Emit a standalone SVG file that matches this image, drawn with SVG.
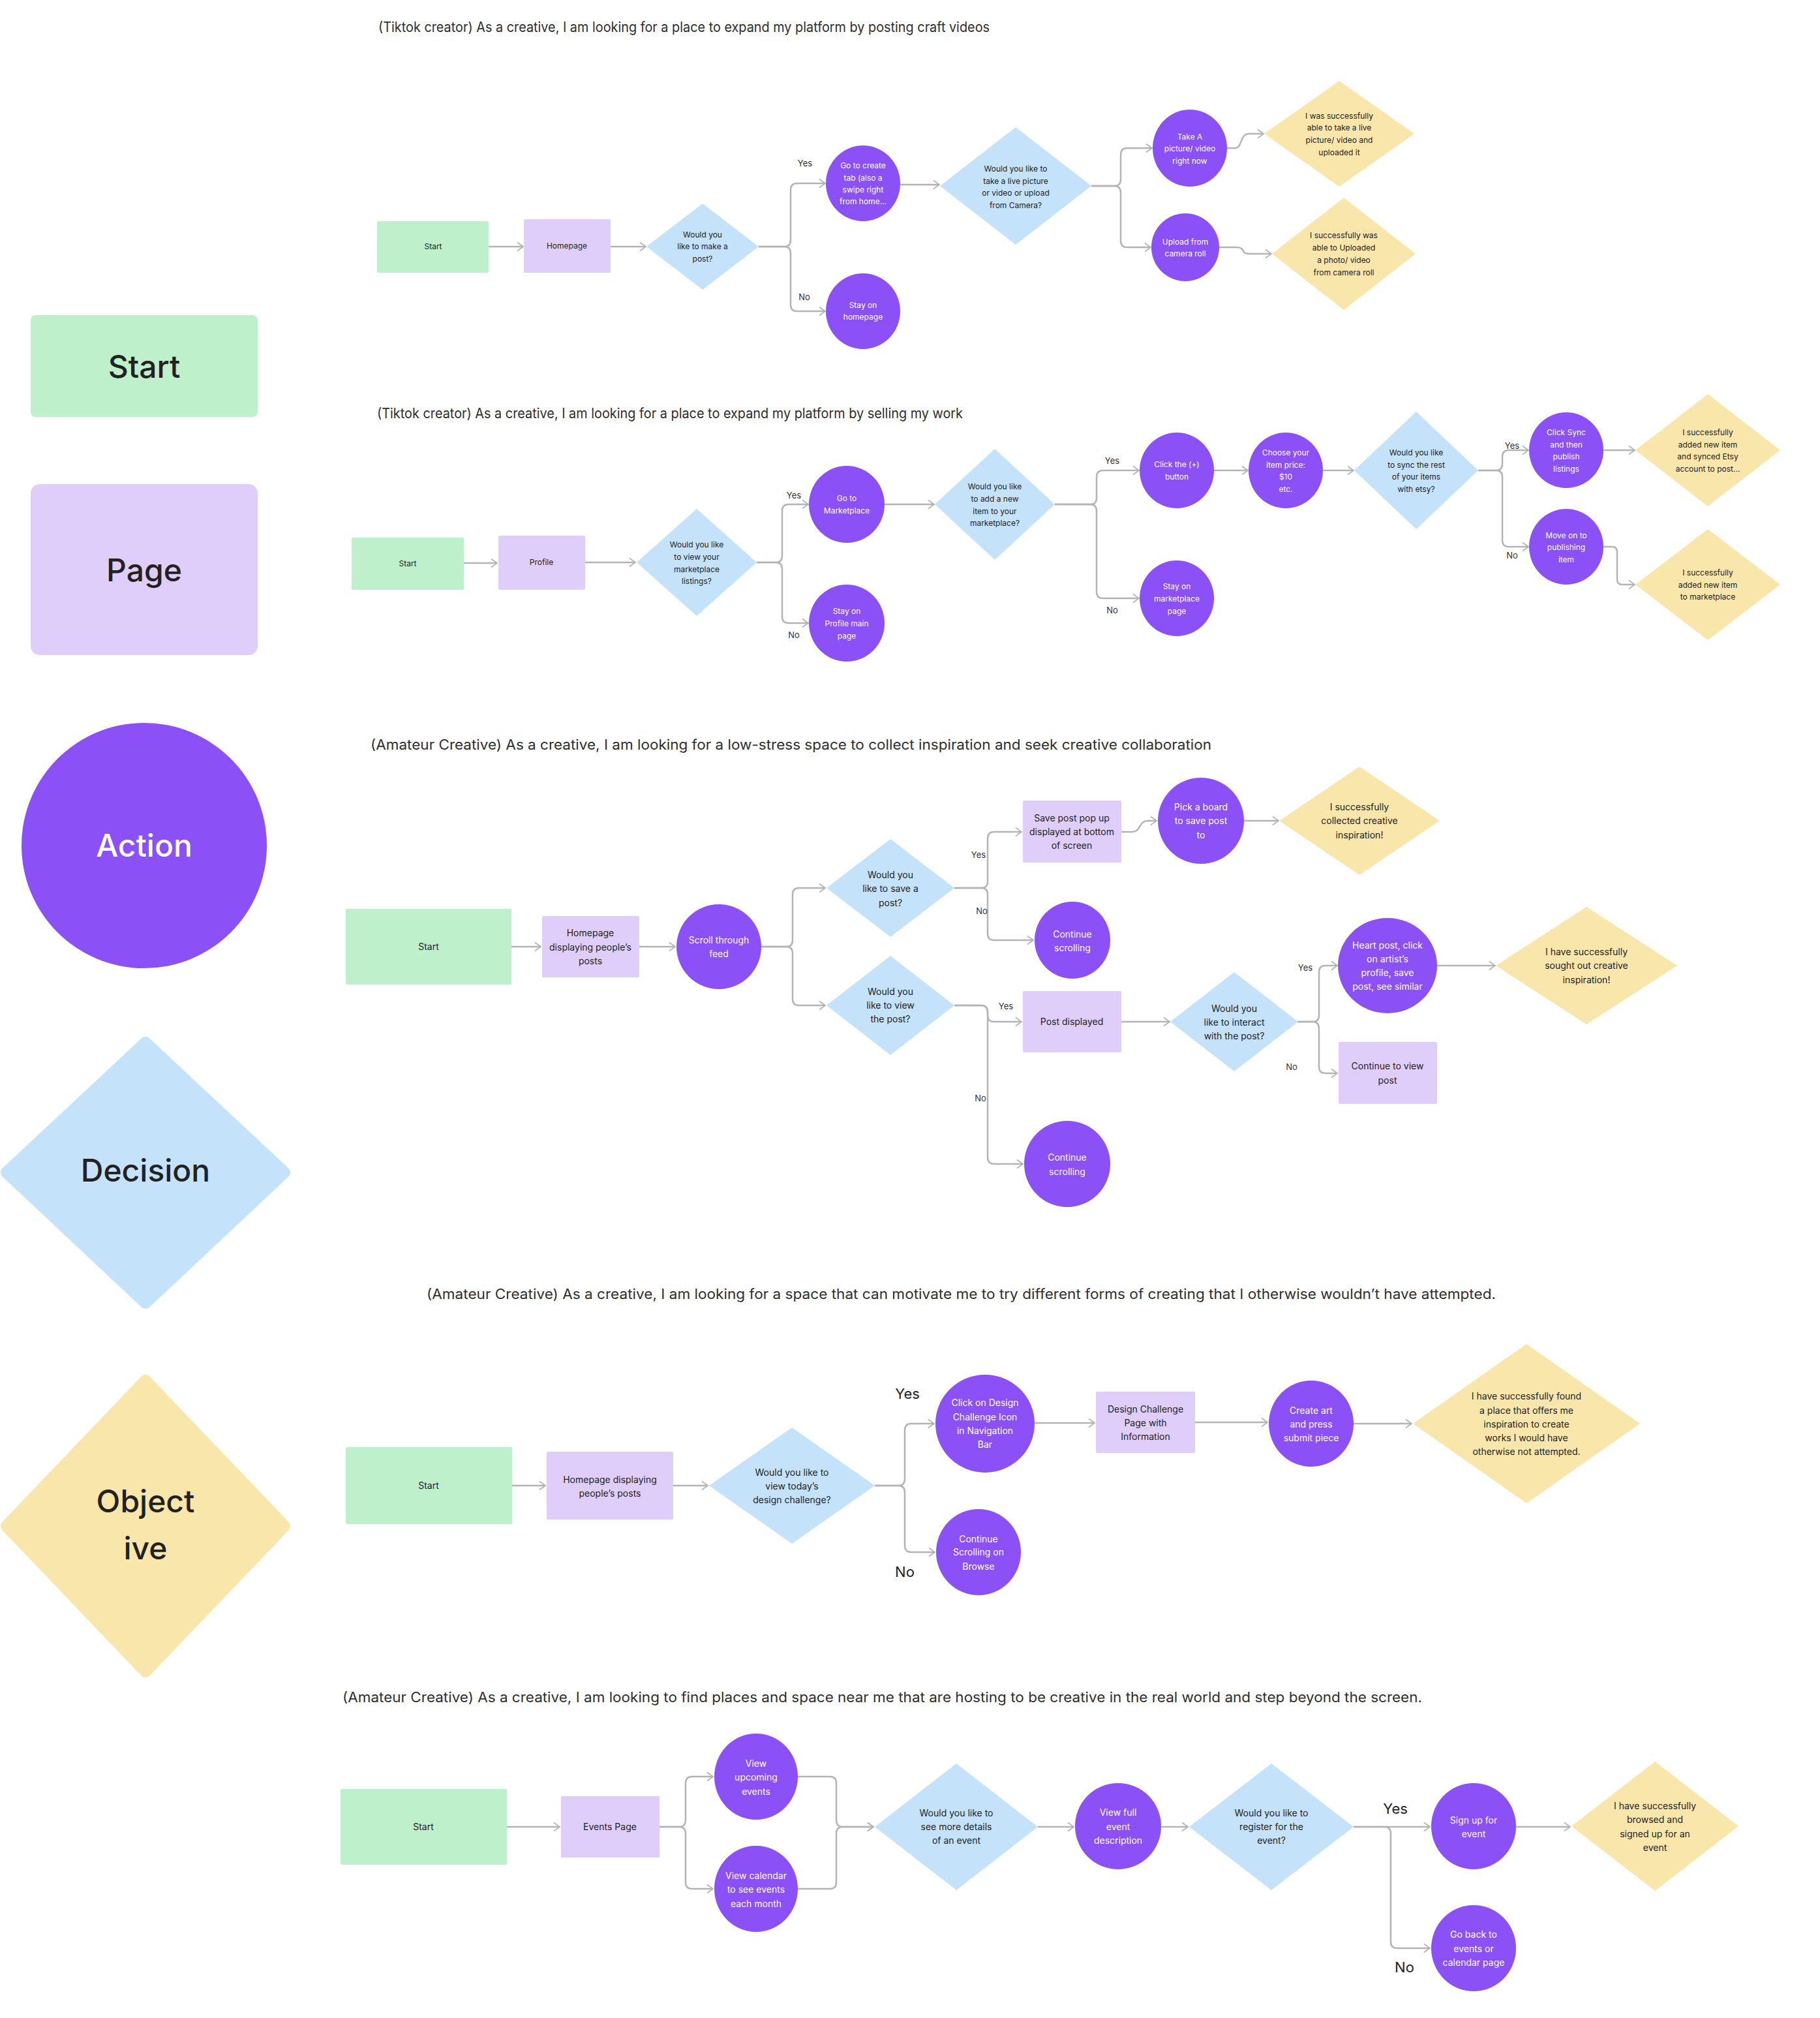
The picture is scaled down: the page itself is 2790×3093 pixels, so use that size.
<svg xmlns="http://www.w3.org/2000/svg" width="2790" height="3093" viewBox="0 0 2790 3093">
<defs>
<style>
.start{fill:#BDF0CB}
.page{fill:#E0CEFA}
.action{fill:#8B50F6}
.decision{fill:#C4E2FA}
.objective{fill:#F9E6AA}
text{font-family:Inter,"Liberation Sans",sans-serif;fill:#222;text-anchor:middle}
.w{fill:#fff}
.s12{font-size:12px}
.s14{font-size:14px}
.lg{font-size:48px;font-weight:500}
.title{font-size:21px;fill:#2e2e2e;text-anchor:start}
.lbl{font-size:13px;fill:#333}
.lbl2{font-size:22px;fill:#222}
.conn{fill:none;stroke:#b4b4b4;stroke-width:2.5;marker-end:url(#arr)}
</style>
<marker id="arr" markerWidth="14" markerHeight="16" refX="11" refY="8" orient="auto" markerUnits="userSpaceOnUse">
<path d="M2,1.5 L11,8 L2,14.5" fill="none" stroke="#b4b4b4" stroke-width="1.8"/>
</marker>
</defs>
<rect width="2790" height="3093" fill="#fff"/>

<!-- Legend -->
<g id="legend-start"><rect class="start" x="47" y="483" width="348" height="156" rx="8"/><text class="lg" x="221" y="579">Start</text></g>
<g id="legend-page"><rect class="page" x="47" y="742" width="348" height="262" rx="14"/><text class="lg" x="221" y="891">Page</text></g>
<g id="legend-action"><circle class="action" cx="221" cy="1296" r="188"/><text class="lg w" x="221" y="1313">Action</text></g>
<g id="legend-decision"><polygon class="decision" points="223,1598 436,1797 223,1997 10,1797" stroke="#C4E2FA" stroke-width="18" stroke-linejoin="round"/><text class="lg" x="223" y="1811">Decision</text></g>
<g id="legend-objective"><polygon class="objective" points="223,2116 436,2339 223,2562 10,2339" stroke="#F9E6AA" stroke-width="18" stroke-linejoin="round"/><text class="lg" x="223" y="2318">Object</text><text class="lg" x="223" y="2390">ive</text></g>

<!-- Titles -->
<text class="title" x="580" y="49" font-size="20" textLength="937" lengthAdjust="spacingAndGlyphs">(Tiktok creator) As a creative, I am looking for a place to expand my platform by posting craft videos</text>
<text class="title" x="578" y="641" font-size="20" textLength="898" lengthAdjust="spacingAndGlyphs">(Tiktok creator) As a creative, I am looking for a place to expand my platform by selling my work</text>
<text class="title" x="568" y="1149" textLength="1289" lengthAdjust="spacingAndGlyphs">(Amateur Creative) As a creative, I am looking for a low-stress space to collect inspiration and seek creative collaboration</text>
<text class="title" x="654" y="1991" textLength="1639" lengthAdjust="spacingAndGlyphs">(Amateur Creative) As a creative, I am looking for a space that can motivate me to try different forms of creating that I otherwise wouldn’t have attempted.</text>
<text class="title" x="525" y="2609" textLength="1655" lengthAdjust="spacingAndGlyphs">(Amateur Creative) As a creative, I am looking to find places and space near me that are hosting to be creative in the real world and step beyond the screen.</text>

<!-- Connectors -->
<g id="connectors">
<!-- flow 1 -->
<path class="conn" d="M749,378 H802"/>
<path class="conn" d="M936,378 H990"/>
<path class="conn" d="M1163,378 H1202 Q1212,378 1212,368 V291 Q1212,281 1222,281 H1265"/>
<path class="conn" d="M1163,378 H1202 Q1212,378 1212,388 V467 Q1212,477 1222,477 H1265"/>
<path class="conn" d="M1380,283 H1440"/>
<path class="conn" d="M1673,285 H1708 Q1718,285 1718,275 V237 Q1718,227 1728,227 H1766"/>
<path class="conn" d="M1673,285 H1708 Q1718,285 1718,295 V369 Q1718,379 1728,379 H1764"/>
<path class="conn" d="M1881,227 H1893 C1905,227 1900,205 1915,205 H1937"/>
<path class="conn" d="M1869,379 H1896 Q1904,379 1906,385 Q1908,389 1916,389 H1949"/>
<!-- flow 2 -->
<path class="conn" d="M711,863 H762"/>
<path class="conn" d="M897,862 H974"/>
<path class="conn" d="M1160,862 H1189 Q1199,862 1199,852 V783 Q1199,773 1209,773 H1239"/>
<path class="conn" d="M1160,862 H1189 Q1199,862 1199,872 V945 Q1199,955 1209,955 H1239"/>
<path class="conn" d="M1356,773 H1432"/>
<path class="conn" d="M1617,773 H1671 Q1681,773 1681,763 V731 Q1681,721 1691,721 H1746"/>
<path class="conn" d="M1617,773 H1671 Q1681,773 1681,783 V907 Q1681,917 1691,917 H1746"/>
<path class="conn" d="M1861,721 H1913"/>
<path class="conn" d="M2028,721 H2075"/>
<path class="conn" d="M2266,721 H2293 Q2303,721 2303,711 V700 Q2303,690 2313,690 H2343"/>
<path class="conn" d="M2266,721 H2293 Q2303,721 2303,731 V828 Q2303,838 2313,838 H2343"/>
<path class="conn" d="M2458,690 H2506"/>
<path class="conn" d="M2458,838 H2471 Q2479,838 2479,846 V888 Q2479,896 2487,896 H2506"/>
<!-- flow 3 -->
<path class="conn" d="M784,1451 H829"/>
<path class="conn" d="M980,1451 H1035"/>
<path class="conn" d="M1167,1451 H1205 Q1215,1451 1215,1441 V1371 Q1215,1361 1225,1361 H1265"/>
<path class="conn" d="M1167,1451 H1205 Q1215,1451 1215,1461 V1531 Q1215,1541 1225,1541 H1265"/>
<path class="conn" d="M1463,1361 H1504 Q1514,1361 1514,1351 V1285 Q1514,1275 1524,1275 H1566"/>
<path class="conn" d="M1463,1361 H1504 Q1514,1361 1514,1371 V1431 Q1514,1441 1524,1441 H1584"/>
<path class="conn" d="M1719,1275 H1735 C1750,1275 1745,1258 1760,1258 H1773"/>
<path class="conn" d="M1907,1258 H1960"/>
<path class="conn" d="M1463,1541 H1504 Q1514,1541 1514,1551 V1556 Q1514,1566 1524,1566 H1566"/>
<path class="conn" d="M1463,1541 H1504 Q1514,1541 1514,1551 V1774 Q1514,1784 1524,1784 H1568"/>
<path class="conn" d="M1719,1566 H1793"/>
<path class="conn" d="M1989,1566 H2012 Q2022,1566 2022,1556 V1490 Q2022,1480 2032,1480 H2050"/>
<path class="conn" d="M1989,1566 H2012 Q2022,1566 2022,1576 V1635 Q2022,1645 2032,1645 H2050"/>
<path class="conn" d="M2203,1480 H2292"/>
<!-- flow 4 -->
<path class="conn" d="M785,2277 H836"/>
<path class="conn" d="M1032,2277 H1085"/>
<path class="conn" d="M1341,2277 H1377 Q1387,2277 1387,2267 V2192 Q1387,2182 1397,2182 H1432"/>
<path class="conn" d="M1341,2277 H1377 Q1387,2277 1387,2287 V2369 Q1387,2379 1397,2379 H1433"/>
<path class="conn" d="M1586,2181 H1678"/>
<path class="conn" d="M1832,2180 H1943"/>
<path class="conn" d="M2075,2182 H2164"/>
<!-- flow 5 -->
<path class="conn" d="M777,2800 H858"/>
<path class="conn" d="M1011,2800 H1041 Q1051,2800 1051,2790 V2733 Q1051,2723 1061,2723 H1093"/>
<path class="conn" d="M1011,2800 H1041 Q1051,2800 1051,2810 V2885 Q1051,2895 1061,2895 H1093"/>
<path class="conn" d="M1223,2723 H1272 Q1282,2723 1282,2733 V2790 Q1282,2800 1292,2800 H1339"/>
<path class="conn" d="M1223,2895 H1272 Q1282,2895 1282,2885 V2810 Q1282,2800 1292,2800 H1339"/>
<path class="conn" d="M1591,2800 H1646"/>
<path class="conn" d="M1780,2800 H1821"/>
<path class="conn" d="M2075,2800 H2192"/>
<path class="conn" d="M2075,2800 H2122 Q2132,2800 2132,2810 V2976 Q2132,2986 2142,2986 H2192"/>
<path class="conn" d="M2324,2800 H2407"/>
</g>

<!-- Connector labels -->
<g id="labels">
<text class="lbl" x="1234" y="255">Yes</text>
<text class="lbl" x="1233" y="460">No</text>
<text class="lbl" x="1217" y="764">Yes</text>
<text class="lbl" x="1217" y="978">No</text>
<text class="lbl" x="1705" y="711">Yes</text>
<text class="lbl" x="1705" y="940">No</text>
<text class="lbl" x="2318" y="688">Yes</text>
<text class="lbl" x="2318" y="856">No</text>
<text class="lbl" x="1500" y="1315">Yes</text>
<text class="lbl" x="1505" y="1401">No</text>
<text class="lbl" x="1542" y="1547">Yes</text>
<text class="lbl" x="1503" y="1688">No</text>
<text class="lbl" x="2001" y="1488">Yes</text>
<text class="lbl" x="1980" y="1640">No</text>
<text class="lbl2" x="1391" y="2144">Yes</text>
<text class="lbl2" x="1387" y="2417">No</text>
<text class="lbl2" x="2139" y="2780">Yes</text>
<text class="lbl2" x="2153" y="3023">No</text>
</g>

<!-- Flow 1 -->
<g id="f1-start"><rect class="start" x="578" y="339" width="171" height="79" rx="2"/><text class="s12" x="664" y="382">Start</text></g>
<g id="f1-homepage"><rect class="page" x="803" y="336" width="133" height="82" rx="2"/><text class="s12" x="869" y="381">Homepage</text></g>
<g id="f1-dec-post"><polygon class="decision" points="1077,312 1163,378 1077,444 991,378"/><text class="s12"><tspan x="1077" y="364">Would you</tspan><tspan x="1077" y="382">like to make a</tspan><tspan x="1077" y="401">post?</tspan></text></g>
<g id="f1-create-tab"><ellipse class="action" cx="1323" cy="281" rx="57" ry="58"/><text class="s12 w"><tspan x="1323" y="258">Go to create</tspan><tspan x="1323" y="277">tab (also a</tspan><tspan x="1323" y="295">swipe right</tspan><tspan x="1323" y="313">from home...</tspan></text></g>
<g id="f1-stay"><ellipse class="action" cx="1323" cy="477" rx="57" ry="58"/><text class="s12 w"><tspan x="1323" y="472">Stay on</tspan><tspan x="1323" y="490">homepage</tspan></text></g>
<g id="f1-dec-camera"><polygon class="decision" points="1557,195 1673,285 1557,375 1441,285"/><text class="s12"><tspan x="1557" y="263">Would you like to</tspan><tspan x="1557" y="282">take a live picture</tspan><tspan x="1557" y="300">or video or upload</tspan><tspan x="1557" y="319">from Camera?</tspan></text></g>
<g id="f1-take"><ellipse class="action" cx="1824" cy="227" rx="57" ry="59"/><text class="s12 w"><tspan x="1824" y="214">Take A</tspan><tspan x="1824" y="232">picture/ video</tspan><tspan x="1824" y="251">right now</tspan></text></g>
<g id="f1-upload"><ellipse class="action" cx="1817" cy="379" rx="52" ry="52"/><text class="s12 w"><tspan x="1817" y="375">Upload from</tspan><tspan x="1817" y="393">camera roll</tspan></text></g>
<g id="f1-obj-live"><polygon class="objective" points="2053,124 2168,205 2053,286 1938,205"/><text class="s12"><tspan x="2053" y="182">I was successfully</tspan><tspan x="2053" y="200">able to take a live</tspan><tspan x="2053" y="219">picture/ video and</tspan><tspan x="2053" y="238">uploaded it</tspan></text></g>
<g id="f1-obj-roll"><polygon class="objective" points="2060,303 2170,389 2060,475 1950,389"/><text class="s12"><tspan x="2060" y="365">I successfully was</tspan><tspan x="2060" y="384">able to Uploaded</tspan><tspan x="2060" y="403">a photo/ video</tspan><tspan x="2060" y="422">from camera roll</tspan></text></g>

<!-- Flow 2 -->
<g id="f2-start"><rect class="start" x="539" y="824" width="172" height="80" rx="2"/><text class="s12" x="625" y="868">Start</text></g>
<g id="f2-profile"><rect class="page" x="764" y="821" width="133" height="83" rx="2"/><text class="s12" x="830" y="866">Profile</text></g>
<g id="f2-dec-listings"><polygon class="decision" points="1068,780 1160,862 1068,944 976,862"/><text class="s12"><tspan x="1068" y="839">Would you like</tspan><tspan x="1068" y="858">to view your</tspan><tspan x="1068" y="877">marketplace</tspan><tspan x="1068" y="895">listings?</tspan></text></g>
<g id="f2-marketplace"><ellipse class="action" cx="1298" cy="773" rx="58" ry="59"/><text class="s12 w"><tspan x="1298" y="768">Go to</tspan><tspan x="1298" y="787">Marketplace</tspan></text></g>
<g id="f2-stay-profile"><ellipse class="action" cx="1298" cy="955" rx="58" ry="59"/><text class="s12 w"><tspan x="1298" y="941">Stay on</tspan><tspan x="1298" y="960">Profile main</tspan><tspan x="1298" y="979">page</tspan></text></g>
<g id="f2-dec-add"><polygon class="decision" points="1525,688 1617,773 1525,858 1433,773"/><text class="s12"><tspan x="1525" y="750">Would you like</tspan><tspan x="1525" y="769">to add a new</tspan><tspan x="1525" y="788">item to your</tspan><tspan x="1525" y="806">marketplace?</tspan></text></g>
<g id="f2-plus"><ellipse class="action" cx="1804" cy="721" rx="57" ry="58"/><text class="s12 w"><tspan x="1804" y="716">Click the (+)</tspan><tspan x="1804" y="735">button</tspan></text></g>
<g id="f2-stay-market"><ellipse class="action" cx="1804" cy="917" rx="57" ry="58"/><text class="s12 w"><tspan x="1804" y="903">Stay on</tspan><tspan x="1804" y="922">marketplace</tspan><tspan x="1804" y="941">page</tspan></text></g>
<g id="f2-price"><ellipse class="action" cx="1971" cy="721" rx="57" ry="58"/><text class="s12 w"><tspan x="1971" y="698">Choose your</tspan><tspan x="1971" y="717">item price:</tspan><tspan x="1971" y="735">$10</tspan><tspan x="1971" y="754">etc.</tspan></text></g>
<g id="f2-dec-sync"><polygon class="decision" points="2171,631 2266,721 2171,811 2076,721"/><text class="s12"><tspan x="2171" y="698">Would you like</tspan><tspan x="2171" y="717">to sync the rest</tspan><tspan x="2171" y="735">of your items</tspan><tspan x="2171" y="754">with etsy?</tspan></text></g>
<g id="f2-sync"><ellipse class="action" cx="2401" cy="690" rx="57" ry="58"/><text class="s12 w"><tspan x="2401" y="667">Click Sync</tspan><tspan x="2401" y="686">and then</tspan><tspan x="2401" y="704">publish</tspan><tspan x="2401" y="723">listings</tspan></text></g>
<g id="f2-move-on"><ellipse class="action" cx="2401" cy="838" rx="57" ry="58"/><text class="s12 w"><tspan x="2401" y="825">Move on to</tspan><tspan x="2401" y="843">publishing</tspan><tspan x="2401" y="862">item</tspan></text></g>
<g id="f2-obj-etsy"><polygon class="objective" points="2618,604 2729,690 2618,776 2507,690"/><text class="s12"><tspan x="2618" y="667">I successfully</tspan><tspan x="2618" y="686">added new item</tspan><tspan x="2618" y="704">and synced Etsy</tspan><tspan x="2618" y="723">account to post...</tspan></text></g>
<g id="f2-obj-market"><polygon class="objective" points="2618,811 2729,896 2618,981 2507,896"/><text class="s12"><tspan x="2618" y="882">I successfully</tspan><tspan x="2618" y="901">added new item</tspan><tspan x="2618" y="919">to marketplace</tspan></text></g>

<!-- Flow 3 -->
<g id="f3-start"><rect class="start" x="530" y="1393" width="254" height="116" rx="2"/><text class="s14" x="657" y="1456">Start</text></g>
<g id="f3-homepage"><rect class="page" x="831" y="1404" width="149" height="94" rx="2"/><text class="s14"><tspan x="905" y="1435">Homepage</tspan><tspan x="905" y="1457">displaying people’s</tspan><tspan x="905" y="1478">posts</tspan></text></g>
<g id="f3-scroll"><ellipse class="action" cx="1102" cy="1451" rx="65" ry="65"/><text class="s14 w"><tspan x="1102" y="1446">Scroll through</tspan><tspan x="1102" y="1467">feed</tspan></text></g>
<g id="f3-dec-save"><polygon class="decision" points="1365,1286 1463,1361 1365,1436 1267,1361"/><text class="s14"><tspan x="1365" y="1346">Would you</tspan><tspan x="1365" y="1367">like to save a</tspan><tspan x="1365" y="1389">post?</tspan></text></g>
<g id="f3-dec-view"><polygon class="decision" points="1365,1465 1463,1541 1365,1617 1267,1541"/><text class="s14"><tspan x="1365" y="1525">Would you</tspan><tspan x="1365" y="1546">like to view</tspan><tspan x="1365" y="1567">the post?</tspan></text></g>
<g id="f3-save-popup"><rect class="page" x="1568" y="1227" width="151" height="95" rx="2"/><text class="s14"><tspan x="1643" y="1259">Save post pop up</tspan><tspan x="1643" y="1280">displayed at bottom</tspan><tspan x="1643" y="1301">of screen</tspan></text></g>
<g id="f3-continue-1"><ellipse class="action" cx="1644" cy="1441" rx="58" ry="59"/><text class="s14 w"><tspan x="1644" y="1437">Continue</tspan><tspan x="1644" y="1458">scrolling</tspan></text></g>
<g id="f3-pick-board"><ellipse class="action" cx="1841" cy="1258" rx="66" ry="66"/><text class="s14 w"><tspan x="1841" y="1242">Pick a board</tspan><tspan x="1841" y="1263">to save post</tspan><tspan x="1841" y="1285">to</tspan></text></g>
<g id="f3-obj-collected"><polygon class="objective" points="2084,1175 2207,1258 2084,1341 1961,1258"/><text class="s14"><tspan x="2084" y="1242">I successfully</tspan><tspan x="2084" y="1263">collected creative</tspan><tspan x="2084" y="1285">inspiration!</tspan></text></g>
<g id="f3-post-displayed"><rect class="page" x="1568" y="1519" width="151" height="94" rx="2"/><text class="s14" x="1643" y="1571">Post displayed</text></g>
<g id="f3-continue-2"><ellipse class="action" cx="1636" cy="1784" rx="66" ry="66"/><text class="s14 w"><tspan x="1636" y="1779">Continue</tspan><tspan x="1636" y="1801">scrolling</tspan></text></g>
<g id="f3-dec-interact"><polygon class="decision" points="1892,1490 1990,1566 1892,1642 1794,1566"/><text class="s14"><tspan x="1892" y="1551">Would you</tspan><tspan x="1892" y="1572">like to interact</tspan><tspan x="1892" y="1593">with the post?</tspan></text></g>
<g id="f3-heart"><ellipse class="action" cx="2127" cy="1480" rx="76" ry="73"/><text class="s14 w"><tspan x="2127" y="1454">Heart post, click</tspan><tspan x="2127" y="1475">on artist’s</tspan><tspan x="2127" y="1496">profile, save</tspan><tspan x="2127" y="1517">post, see similar</tspan></text></g>
<g id="f3-continue-view"><rect class="page" x="2052" y="1597" width="151" height="95" rx="2"/><text class="s14"><tspan x="2127" y="1639">Continue to view</tspan><tspan x="2127" y="1661">post</tspan></text></g>
<g id="f3-obj-sought"><polygon class="objective" points="2432,1390 2571,1480 2432,1570 2293,1480"/><text class="s14"><tspan x="2432" y="1464">I have successfully</tspan><tspan x="2432" y="1485">sought out creative</tspan><tspan x="2432" y="1507">inspiration!</tspan></text></g>

<!-- Flow 4 -->
<g id="f4-start"><rect class="start" x="530" y="2218" width="255" height="118" rx="2"/><text class="s14" x="657" y="2282">Start</text></g>
<g id="f4-homepage"><rect class="page" x="838" y="2225" width="194" height="104" rx="2"/><text class="s14"><tspan x="935" y="2273">Homepage displaying</tspan><tspan x="935" y="2294">people’s posts</tspan></text></g>
<g id="f4-dec-challenge"><polygon class="decision" points="1214,2188 1341,2277 1214,2366 1087,2277"/><text class="s14"><tspan x="1214" y="2262">Would you like to</tspan><tspan x="1214" y="2283">view today’s</tspan><tspan x="1214" y="2304">design challenge?</tspan></text></g>
<g id="f4-click-icon"><ellipse class="action" cx="1510" cy="2182" rx="76" ry="75"/><text class="s14 w"><tspan x="1510" y="2155">Click on Design</tspan><tspan x="1510" y="2177">Challenge Icon</tspan><tspan x="1510" y="2198">in Navigation</tspan><tspan x="1510" y="2219">Bar</tspan></text></g>
<g id="f4-continue"><ellipse class="action" cx="1500" cy="2379" rx="65" ry="66"/><text class="s14 w"><tspan x="1500" y="2364">Continue</tspan><tspan x="1500" y="2384">Scrolling on</tspan><tspan x="1500" y="2406">Browse</tspan></text></g>
<g id="f4-challenge-page"><rect class="page" x="1680" y="2133" width="152" height="94" rx="2"/><text class="s14"><tspan x="1756" y="2165">Design Challenge</tspan><tspan x="1756" y="2186">Page with</tspan><tspan x="1756" y="2207">Information</tspan></text></g>
<g id="f4-create"><ellipse class="action" cx="2010" cy="2182" rx="65" ry="66"/><text class="s14 w"><tspan x="2010" y="2167">Create art</tspan><tspan x="2010" y="2188">and press</tspan><tspan x="2010" y="2209">submit piece</tspan></text></g>
<g id="f4-obj"><polygon class="objective" points="2340,2060 2514,2182 2340,2304 2166,2182"/><text class="s14"><tspan x="2340" y="2145">I have successfully found</tspan><tspan x="2340" y="2167">a place that offers me</tspan><tspan x="2340" y="2188">inspiration to create</tspan><tspan x="2340" y="2209">works I would have</tspan><tspan x="2340" y="2230">otherwise not attempted.</tspan></text></g>

<!-- Flow 5 -->
<g id="f5-start"><rect class="start" x="522" y="2742" width="255" height="116" rx="2"/><text class="s14" x="649" y="2805">Start</text></g>
<g id="f5-events"><rect class="page" x="860" y="2753" width="151" height="94" rx="2"/><text class="s14" x="935" y="2805">Events Page</text></g>
<g id="f5-upcoming"><ellipse class="action" cx="1159" cy="2723" rx="64" ry="66"/><text class="s14 w"><tspan x="1159" y="2708">View</tspan><tspan x="1159" y="2729">upcoming</tspan><tspan x="1159" y="2751">events</tspan></text></g>
<g id="f5-calendar"><ellipse class="action" cx="1159" cy="2895" rx="64" ry="66"/><text class="s14 w"><tspan x="1159" y="2880">View calendar</tspan><tspan x="1159" y="2901">to see events</tspan><tspan x="1159" y="2923">each month</tspan></text></g>
<g id="f5-dec-details"><polygon class="decision" points="1466,2703 1591,2800 1466,2897 1341,2800"/><text class="s14"><tspan x="1466" y="2784">Would you like to</tspan><tspan x="1466" y="2805">see more details</tspan><tspan x="1466" y="2826">of an event</tspan></text></g>
<g id="f5-full-desc"><ellipse class="action" cx="1714" cy="2799" rx="66" ry="66"/><text class="s14 w"><tspan x="1714" y="2783">View full</tspan><tspan x="1714" y="2805">event</tspan><tspan x="1714" y="2826">description</tspan></text></g>
<g id="f5-dec-register"><polygon class="decision" points="1949,2703 2075,2800 1949,2897 1823,2800"/><text class="s14"><tspan x="1949" y="2784">Would you like to</tspan><tspan x="1949" y="2805">register for the</tspan><tspan x="1949" y="2826">event?</tspan></text></g>
<g id="f5-signup"><ellipse class="action" cx="2259" cy="2799" rx="65" ry="66"/><text class="s14 w"><tspan x="2259" y="2795">Sign up for</tspan><tspan x="2259" y="2816">event</tspan></text></g>
<g id="f5-go-back"><ellipse class="action" cx="2259" cy="2986" rx="65" ry="66"/><text class="s14 w"><tspan x="2259" y="2970">Go back to</tspan><tspan x="2259" y="2992">events or</tspan><tspan x="2259" y="3013">calendar page</tspan></text></g>
<g id="f5-obj"><polygon class="objective" points="2537,2700 2665,2799 2537,2898 2409,2799"/><text class="s14"><tspan x="2537" y="2773">I have successfully</tspan><tspan x="2537" y="2794">browsed and</tspan><tspan x="2537" y="2816">signed up for an</tspan><tspan x="2537" y="2837">event</tspan></text></g>
</svg>
